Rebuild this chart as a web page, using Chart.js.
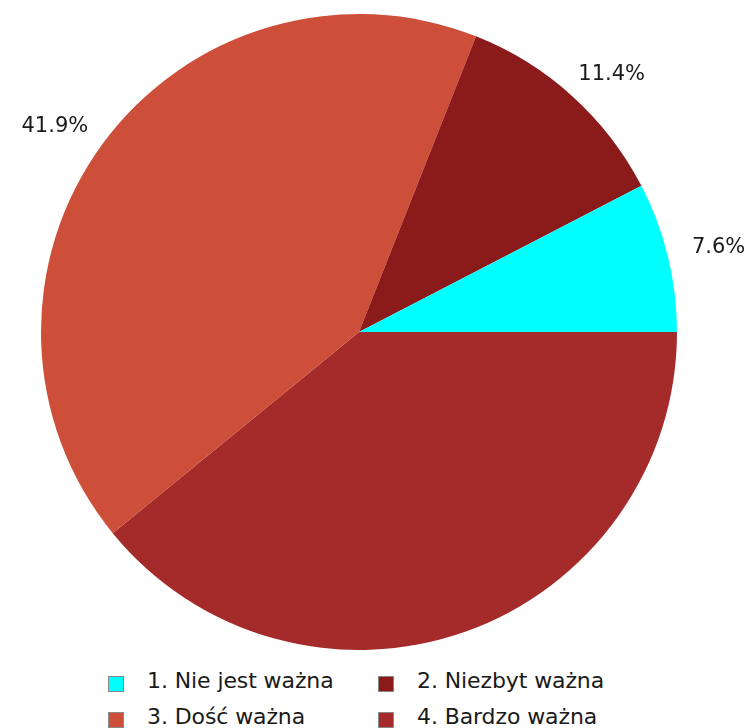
<!DOCTYPE html>
<html>
<head>
<meta charset="utf-8">
<script src="https://cdn.jsdelivr.net/npm/chart.js@4"></script>
<style>
  body { margin: 0; background: #fff; }
  #wrap { position: relative; width: 744px; height: 728px; overflow: hidden; }
  #legenda { position: absolute; left: 0; top: 662px; width: 744px; height: 66px; background: #fff;
             font-family: "DejaVu Sans", sans-serif; font-size: 22px; color: #1a1a1a; }
  .item { position: absolute; white-space: nowrap; line-height: 22px; letter-spacing: -0.1px; }
  .box { position: absolute; width: 14px; height: 14px; border: 1px solid #888; }
</style>
</head>
<body>
<div id="wrap">
  <canvas id="grafico" width="744" height="728"></canvas>
  <div id="legenda"></div>
</div>
<script>
// kategorie i wartości (%)
const kategorie = ['1. Nie jest ważna', '2. Niezbyt ważna', '3. Dość ważna', '4. Bardzo ważna'];
const wartosci = [7.6, 11.4, 41.9, 39.1];
const kolory = ['#00FFFF', '#8B1A1A', '#CD4F39', '#A52A2A'];

// wykres rysuje zgodnie z ruchem wskazówek od godz. 3, więc kolejność odwrócona
const dane = wartosci.slice().reverse();
const etykiety = kategorie.slice().reverse();
const tla = kolory.slice().reverse();

// etykiety procentowe na zewnątrz wycinków
const procenty = {
    id: 'procenty',
    afterDatasetsDraw(chart) {
        const ctx = chart.ctx;
        const meta = chart.getDatasetMeta(0);
        const dol = chart.chartArea.bottom;
        ctx.save();
        ctx.font = '21px "DejaVu Sans", sans-serif';
        ctx.fillStyle = '#1a1a1a';
        ctx.textAlign = 'center';
        ctx.textBaseline = 'middle';
        meta.data.forEach((arc, i) => {
            const p = arc.getProps(['x', 'y', 'startAngle', 'endAngle', 'outerRadius'], true);
            const kat = (p.startAngle + p.endAngle) / 2;
            const tekst = dane[i].toFixed(1) + '%';
            const w = ctx.measureText(tekst).width;
            const r = p.outerRadius * 1.08;
            // tekst odsunięty na zewnątrz o połowę szerokości
            const x = p.x + Math.cos(kat) * (r + w / 2);
            const y = p.y + Math.sin(kat) * r - 3;
            // etykieta wchodząca na legendę jest pomijana
            if (y + 10 > dol) return;
            ctx.fillText(tekst, x, y);
        });
        ctx.restore();
    }
};

new Chart(document.getElementById('grafico'), {
    type: 'pie',
    data: {
        labels: etykiety,
        datasets: [{
            data: dane,
            backgroundColor: tla,
            borderWidth: 0
        }]
    },
    options: {
        responsive: false,
        animation: false,
        rotation: 90,
        layout: { padding: { left: 41, right: 67, top: 14, bottom: 78 } },
        plugins: {
            legend: { display: false },
            tooltip: { enabled: false }
        }
    },
    plugins: [procenty]
});

// legenda w dwóch kolumnach
const legenda = document.getElementById('legenda');
const kolX = [108, 378];
const wierszY = [14, 50];
kategorie.forEach((nazwa, i) => {
    const x = kolX[i % 2];
    const y = wierszY[Math.floor(i / 2)];
    const box = document.createElement('div');
    box.className = 'box';
    box.style.left = x + 'px';
    box.style.top = y + 'px';
    box.style.background = kolory[i];
    legenda.appendChild(box);
    const txt = document.createElement('div');
    txt.className = 'item';
    txt.style.left = (x + 39) + 'px';
    txt.style.top = (y - 6) + 'px';
    txt.textContent = nazwa;
    legenda.appendChild(txt);
});
</script>
</body>
</html>
